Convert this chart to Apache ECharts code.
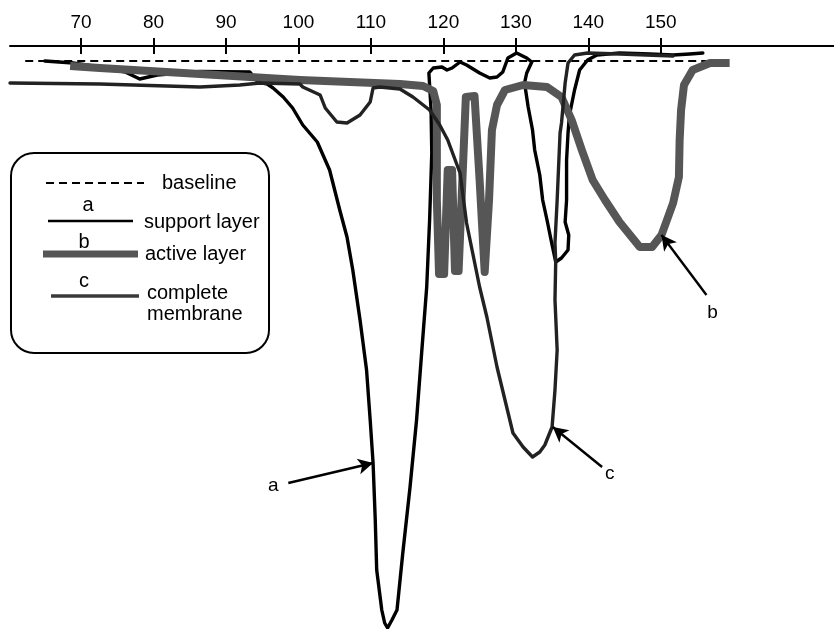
<!DOCTYPE html>
<html><head><meta charset="utf-8">
<script src="https://cdn.jsdelivr.net/npm/echarts@6/dist/echarts.min.js"></script>
<style>html,body{margin:0;padding:0;background:#fff}#c{width:834px;height:629px}</style>
</head><body><div id="c"></div>
<script>
// Temperature tick labels (°C)
const tickValues = [70, 80, 90, 100, 110, 120, 130, 140, 150];

// Baseline (dashed)
const baselineT = [62.3, 158.1];
const baselineY = [0, 0];

// a: support layer (thin black)
const supportT = [65.0,68.9,72.6,76.1,78.1,80.5,86.4,93.3,94.4,95.7,96.5,97.9,99.2,100.6,102.6,104.3,105.7,106.7,107.5,108.5,109.4,109.9,110.3,110.6,110.8,111.5,111.9,112.3,112.9,113.6,114.4,115.4,116.3,117.0,117.7,118.1,118.4,118.3,118.0,118.6,119.8,120.5,121.2,122.3,123.2,125.0,126.4,127.4,128.2,128.9,130.1,131.5,132.2,131.5,131.2,131.7,132.3,132.6,133.3,133.7,134.3,135.0,135.5,136.3,137.2,137.3,136.8,137.0,137.0,137.2,137.4,138.1,138.8,139.9,141.2,144.3,148.5,151.7,154.0,155.8];
const supportY = [0,-0.2,-0.6,-1.1,-1.8,-1.4,-1.05,-1.1,-2.1,-2.3,-2.7,-3.6,-4.7,-6.4,-8.1,-10.9,-14.9,-17.6,-20.9,-25.9,-30.9,-35.9,-40.2,-45.9,-50.9,-54.9,-56.2,-56.7,-55.9,-54.9,-49.2,-42.6,-35.9,-29.2,-22.6,-15.9,-9.2,-4.9,-1.2,-0.7,-0.6,-0.9,-0.7,-0.1,-0.4,-1.2,-1.7,-1.6,-1.1,0.3,0.8,0.3,-0.1,-1.2,-2.2,-4.6,-6.9,-8.9,-11.4,-13.9,-15.9,-18.4,-20.1,-19.7,-18.9,-17.4,-16.1,-13.9,-9.9,-7.2,-5.4,-2.9,-0.9,0.1,0.6,0.8,0.7,0.6,0.7,0.8];

// b: active layer (thick grey)
const activeT = [68.5,72.6,79.5,86.4,93.3,100.2,107.1,114.0,117.2,118.6,119.1,119.1,119.4,120.1,120.6,121.2,121.6,122.1,123.1,124.3,125.0,125.7,126.3,126.7,127.4,128.5,131.0,134.3,136.3,137.7,139.1,140.6,142.3,144.3,147.1,148.8,150.1,151.7,152.5,152.6,152.8,153.2,154.4,156.8,159.5];
const activeY = [-0.5,-0.7,-1.0,-1.3,-1.6,-1.9,-2.1,-2.3,-2.5,-3.0,-4.4,-13.9,-21.3,-21.3,-10.9,-10.9,-21.0,-21.0,-3.6,-3.5,-11.9,-21.1,-13.9,-6.9,-4.4,-2.9,-2.4,-2.6,-3.6,-5.9,-8.9,-11.9,-13.9,-16.1,-18.6,-18.6,-17.4,-14.2,-11.6,-7.9,-4.9,-2.4,-0.9,-0.2,-0.2];

// c: complete membrane (medium)
const completeT = [60.2,72.6,86.4,91.9,94.7,100.2,100.6,103.0,103.7,105.3,106.7,108.5,109.9,110.3,111.2,114.0,115.8,118.1,119.5,120.6,122.3,123.2,125.0,126.0,127.4,128.5,129.6,131.0,132.3,133.3,134.0,135.0,135.4,135.7,135.4,135.5,135.4,135.7,136.1,136.3,136.8,137.2,138.1,139.9,144.3,151.7];
const completeY = [-2.2,-2.3,-2.6,-2.4,-2.2,-2.3,-2.6,-3.4,-4.7,-6.1,-6.2,-5.4,-4.1,-2.7,-2.6,-2.8,-3.6,-4.9,-6.4,-7.9,-11.2,-16.2,-22.6,-25.6,-30.6,-33.9,-37.2,-38.6,-39.6,-39.1,-38.4,-36.6,-32.9,-28.9,-23.9,-20.1,-18.2,-13.9,-7.2,-6.2,-2.2,-0.2,0.6,0.8,0.7,0.5];

// Arrow annotations
const arrowLabels = ['a', 'b', 'c'];
const arrowFromT = [98.6, 156.3, 141.9];
const arrowFromY = [-42.2, -23.4, -40.6];
const arrowToT = [110.3, 150.1, 135.1];
const arrowToY = [-40.2, -17.4, -36.6];

const zip = (xs, ys) => xs.map((x, i) => [x, ys[i]]);
const FONT = "'Liberation Sans', Arial, Helvetica, sans-serif";

const chart = echarts.init(document.getElementById('c'), null, {renderer: 'canvas'});

const arrowData = arrowLabels.map((lab, i) => [
  {coord: [arrowFromT[i], arrowFromY[i]], label: {formatter: lab}},
  {coord: [arrowToT[i], arrowToY[i]]}
]);

const legendX = 10, legendY = 152;
const LF = 20;
chart.setOption({
  animation: false,
  backgroundColor: '#fff',
  grid: {left: 10, right: 0, top: 46, bottom: 0, containLabel: false},
  xAxis: [{
    type: 'value', position: 'top', min: 60.2, max: 173.9,
    splitLine: {show: false},
    axisLine: {show: true, onZero: false, lineStyle: {color: '#000', width: 2}},
    axisTick: {show: true, inside: false, length: 8, lineStyle: {color: '#000', width: 2}, customValues: tickValues},
    axisLabel: {show: true, margin: 14, color: '#000', fontSize: 19, fontFamily: FONT, customValues: tickValues}
  }, {
    type: 'value', position: 'top', min: 60.2, max: 173.9,
    splitLine: {show: false},
    axisLine: {show: false, onZero: false},
    axisTick: {show: true, inside: true, length: 8, lineStyle: {color: '#000', width: 2}, customValues: tickValues},
    axisLabel: {show: false}
  }],
  yAxis: {type: 'value', min: -56.8, max: 1.5, show: false},
  series: [
    {
      name: 'baseline', type: 'line', data: zip(baselineT, baselineY), showSymbol: false,
      lineStyle: {color: '#000', width: 2, type: [8, 5]},
      markLine: {
        silent: true, symbol: ['none', 'arrow'], symbolSize: [12, 15],
        lineStyle: {color: '#000', width: 2.4, type: 'solid'},
        label: {show: true, position: 'start', distance: 10, color: '#000', fontSize: 19, fontFamily: FONT},
        data: arrowData
      }
    },
    {
      name: 'support layer', type: 'line', data: zip(supportT, supportY), showSymbol: false, z: 2,
      lineStyle: {color: '#000', width: 3.4, join: 'round', cap: 'round'}
    },
    {
      name: 'active layer', type: 'line', data: zip(activeT, activeY), showSymbol: false, z: 3,
      lineStyle: {color: '#565656', width: 8, join: 'round', cap: 'butt'}
    },
    {
      name: 'complete membrane', type: 'line', data: zip(completeT, completeY), showSymbol: false, z: 4,
      lineStyle: {color: '#222', width: 3.4, join: 'round', cap: 'round'}
    }
  ],
  graphic: [{
    type: 'group', left: legendX, top: legendY,
    children: [
      {type: 'rect', shape: {x: 0, y: 0, width: 258, height: 200, r: 23}, style: {fill: '#fff', stroke: '#000', lineWidth: 2}},
      {type: 'line', shape: {x1: 35, y1: 30, x2: 133, y2: 30}, style: {stroke: '#000', lineWidth: 2, lineDash: [8, 5]}},
      {type: 'text', x: 151, y: 30, style: {text: 'baseline', fontSize: LF, fontFamily: FONT, fill: '#000', verticalAlign: 'middle'}},
      {type: 'text', x: 77, y: 52, style: {text: 'a', fontSize: LF, fontFamily: FONT, fill: '#000', align: 'center', verticalAlign: 'middle'}},
      {type: 'line', shape: {x1: 37, y1: 68, x2: 122, y2: 68}, style: {stroke: '#000', lineWidth: 2.5}},
      {type: 'text', x: 133, y: 69, style: {text: 'support layer', fontSize: LF, fontFamily: FONT, fill: '#000', verticalAlign: 'middle'}},
      {type: 'text', x: 73, y: 89, style: {text: 'b', fontSize: LF, fontFamily: FONT, fill: '#000', align: 'center', verticalAlign: 'middle'}},
      {type: 'line', shape: {x1: 32, y1: 101, x2: 127, y2: 101}, style: {stroke: '#565656', lineWidth: 7}},
      {type: 'text', x: 134, y: 101, style: {text: 'active layer', fontSize: LF, fontFamily: FONT, fill: '#000', verticalAlign: 'middle'}},
      {type: 'text', x: 73, y: 128, style: {text: 'c', fontSize: LF, fontFamily: FONT, fill: '#000', align: 'center', verticalAlign: 'middle'}},
      {type: 'line', shape: {x1: 40, y1: 143, x2: 128, y2: 143}, style: {stroke: '#3a3a3a', lineWidth: 3.5}},
      {type: 'text', x: 136, y: 140, style: {text: 'complete', fontSize: LF, fontFamily: FONT, fill: '#000', verticalAlign: 'middle'}},
      {type: 'text', x: 136, y: 161, style: {text: 'membrane', fontSize: LF, fontFamily: FONT, fill: '#000', verticalAlign: 'middle'}}
    ]
  }]
});
</script>
</body></html>
